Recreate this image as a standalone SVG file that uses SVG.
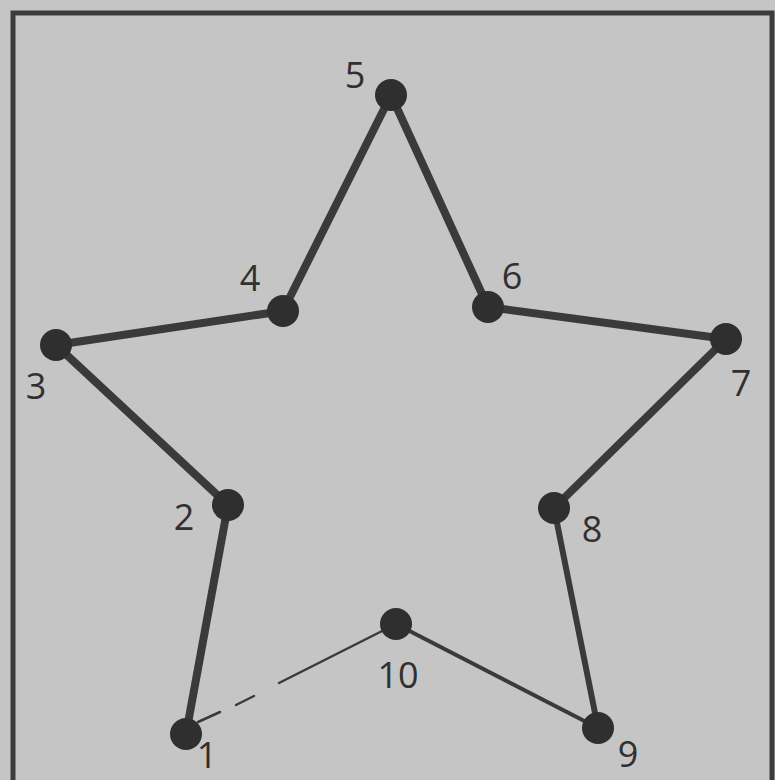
<svg xmlns="http://www.w3.org/2000/svg" width="775" height="780" viewBox="0 0 775 780">
<style>
.bg{fill:#c5c5c5}
.frame{fill:none;stroke:#3c3c3c;stroke-width:5}
.dot{fill:#2f2f2f}
.lbl{font-family:"Open Sans","Noto Sans",sans-serif;font-size:36px;fill:#303030;text-anchor:middle}
.e{stroke:#3a3a3a;stroke-linecap:round;fill:none}
.thick{stroke-width:8}
.mid6{stroke-width:6}
.mid{stroke-width:4}
.thin{stroke-width:2.5}
</style>
<rect class="bg" x="0" y="0" width="775" height="780"/>
<rect class="frame" x="13" y="13" width="759" height="800"/>
<g id="connectors">
<line class="e thick" x1="186" y1="734" x2="228" y2="505"/>
<line class="e thick" x1="228" y1="505" x2="56" y2="345"/>
<line class="e thick" x1="56" y1="345" x2="283" y2="311"/>
<line class="e thick" x1="283" y1="311" x2="391" y2="95"/>
<line class="e thick" x1="391" y1="95" x2="488" y2="307"/>
<line class="e thick" x1="488" y1="307" x2="726" y2="339"/>
<line class="e thick" x1="726" y1="339" x2="554" y2="508"/>
<line class="e mid6" x1="554" y1="508" x2="598" y2="728"/>
<line class="e mid" x1="598" y1="728" x2="396" y2="624"/>
<line class="e thin" x1="396" y1="624" x2="279" y2="683"/>
<line class="e thin" x1="254" y1="696" x2="236" y2="705"/>
<line class="e thin" x1="220" y1="712" x2="198" y2="722"/>
</g>
<g id="n1"><circle class="dot" cx="186" cy="734" r="16"/><text class="lbl" x="207" y="768">1</text></g>
<g id="n2"><circle class="dot" cx="228" cy="505" r="16"/><text class="lbl" x="184" y="530">2</text></g>
<g id="n3"><circle class="dot" cx="56" cy="345" r="16"/><text class="lbl" x="36" y="399">3</text></g>
<g id="n4"><circle class="dot" cx="283" cy="311" r="16"/><text class="lbl" x="250" y="291">4</text></g>
<g id="n5"><circle class="dot" cx="391" cy="95" r="16"/><text class="lbl" x="355" y="88">5</text></g>
<g id="n6"><circle class="dot" cx="488" cy="307" r="16"/><text class="lbl" x="512" y="289">6</text></g>
<g id="n7"><circle class="dot" cx="726" cy="339" r="16"/><text class="lbl" x="741" y="396">7</text></g>
<g id="n8"><circle class="dot" cx="554" cy="508" r="16"/><text class="lbl" x="592" y="542">8</text></g>
<g id="n9"><circle class="dot" cx="598" cy="728" r="16"/><text class="lbl" x="628" y="767">9</text></g>
<g id="n10"><circle class="dot" cx="396" cy="624" r="16"/><text class="lbl" x="398" y="688">10</text></g>
</svg>
